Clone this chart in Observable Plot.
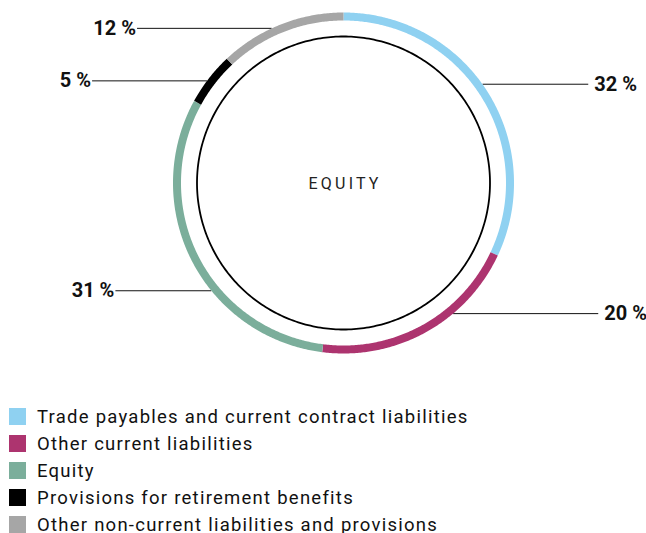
<!DOCTYPE html>
<html>
<head>
<meta charset="utf-8">
<script src="https://cdn.jsdelivr.net/npm/d3@7"></script>
<script src="https://cdn.jsdelivr.net/npm/@observablehq/plot@0.6"></script>
<style>
  body { margin: 0; background: #fff; font-family: Roboto, "DejaVu Sans", sans-serif; }
  #chart svg { display: block; }
  .legend { padding-top: 3px; }
  .legend .row { display: flex; align-items: center; height: 27px; }
  .legend .sw { width: 17px; height: 17px; margin-left: 9px; flex: none; }
  .legend .tx { margin-left: 11px; font-size: 18.5px; color: #111; letter-spacing: 1.25px; white-space: nowrap; }
</style>
</head>
<body>
<div id="chart"></div>
<div class="legend" id="legend"></div>
<script>
// ---- data ----
const categories = [
  "Trade payables and current contract liabilities",
  "Other current liabilities",
  "Equity",
  "Provisions for retirement benefits",
  "Other non-current liabilities and provisions"
];
const shares = [32, 20, 31, 5, 12];
const valueLabels = ["32 %", "20 %", "31 %", "5 %", "12 %"];
const centerLabel = "EQUITY";

// ---- style / layout ----
const colors = ["#8fd1f1", "#ad346f", "#7bae9b", "#000000", "#a6a6a6"];
const leaderAngle = [54.6, 140, 230.8, 306.8, 335.1]; // degrees clockwise from top
const leaderEndX = [1.47, 1.53, -1.37, -1.51, -1.24]; // in ring-radius units

const W = 646, H = 400, cx = 343, cy = 182.5, k = 166.5;
const ringR = 1, outerR = 170.5 / k, innerR = 146.5 / k;

// arc geometry
const arcPts = [];
let cum = 0;
shares.forEach((s, i) => {
  const a0 = cum / 100 * 360, a1 = (cum + s) / 100 * 360;
  cum += s;
  const n = Math.max(2, Math.ceil((a1 - a0) / 0.5));
  for (let j = 0; j <= n; j++) {
    const a = (a0 + (a1 - a0) * j / n) * Math.PI / 180;
    arcPts.push({cat: categories[i], x: ringR * Math.sin(a), y: ringR * Math.cos(a)});
  }
});
const circlePts = d3.range(0, 361, 1).map(d => ({x: innerR * Math.sin(d * Math.PI / 180), y: innerR * Math.cos(d * Math.PI / 180)}));

const leaders = categories.map((c, i) => {
  const a = leaderAngle[i] * Math.PI / 180;
  const x1 = outerR * Math.sin(a), y1 = outerR * Math.cos(a);
  return {cat: c, label: valueLabels[i], x1, y1, x2: leaderEndX[i], y2: y1, right: leaderEndX[i] > 0};
});

const plot = Plot.plot({
  width: W, height: H,
  margin: 0,
  x: {domain: [-cx / k, (W - cx) / k], axis: null},
  y: {domain: [-(H - cy) / k, cy / k], axis: null},
  color: {domain: categories, range: colors},
  style: {fontFamily: "Roboto, 'DejaVu Sans', sans-serif", background: "#fff"},
  marks: [
    Plot.line(circlePts, {x: "x", y: "y", stroke: "#000", strokeWidth: 1.8}),
    Plot.link(leaders, {x1: "x1", y1: "y1", x2: "x2", y2: "y2", stroke: "#111", strokeWidth: 1}),
    Plot.line(arcPts, {x: "x", y: "y", z: "cat", stroke: "cat", strokeWidth: 8, strokeLinecap: "butt"}),
    Plot.text(leaders.filter(d => d.right), {x: "x2", y: "y2", text: "label", textAnchor: "start", dx: 6, fontSize: 20, fontWeight: "bold", fill: "#111"}),
    Plot.text(leaders.filter(d => !d.right), {x: "x2", y: "y2", text: "label", textAnchor: "end", dx: -1, fontSize: 20, fontWeight: "bold", fill: "#111"}),
    Plot.text([centerLabel], {x: () => 0, y: () => 0, text: d => d, fontSize: 16, fill: "#222", dy: 1})
  ]
});
d3.select(plot).selectAll("text").filter(function() { return this.textContent === centerLabel; })
  .attr("letter-spacing", "3.2px").attr("dx", "1.6");
document.getElementById("chart").appendChild(plot);

const lg = document.getElementById("legend");
categories.forEach((c, i) => {
  const row = document.createElement("div");
  row.className = "row";
  row.innerHTML = `<div class="sw" style="background:${colors[i]}"></div><div class="tx">${c}</div>`;
  lg.appendChild(row);
});
</script>
</body>
</html>
